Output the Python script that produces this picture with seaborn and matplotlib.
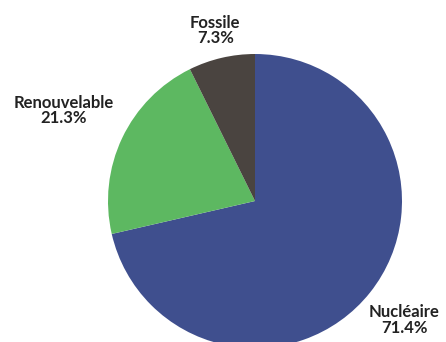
import numpy as np
import matplotlib
matplotlib.use("Agg")
import matplotlib.pyplot as plt
import seaborn as sns

# Electricity mix shares (%)
sources = ["Nucléaire", "Renouvelable", "Fossile"]
shares = [71.4, 21.3, 7.3]
colors = ["#3F4F8E", "#5DB861", "#4A4440"]
label_dist = [1.30, 1.44, 1.19]

sns.set_theme(style="white")
plt.rcParams["font.family"] = ["Lato", "DejaVu Sans"]

W, H = 446, 342
fig = plt.figure(figsize=(W / 100, H / 100), dpi=100)
ax = fig.add_axes([0, 0, 1, 1])

cx, cy, r = 255, H - 201, 147
wedges, _ = ax.pie(shares, colors=colors, startangle=90, counterclock=False,
                   center=(cx, cy), radius=r, frame=True,
                   wedgeprops=dict(linewidth=0))
ax.set_xlim(0, W)
ax.set_ylim(0, H)
ax.set_aspect("equal")
ax.axis("off")

# Two-line labels (name + share) placed along each wedge's mid-angle
for w, name, val, d in zip(wedges, sources, shares, label_dist):
    ang = np.deg2rad((w.theta1 + w.theta2) / 2)
    x = cx + d * r * np.cos(ang)
    y = cy + d * r * np.sin(ang)
    ax.text(x, y, f"{name}\n{val:.1f}%", ha="center", va="center",
            fontsize=12, fontweight="bold", color="#222222", linespacing=0.95)

fig.savefig("out.png", dpi=100)
